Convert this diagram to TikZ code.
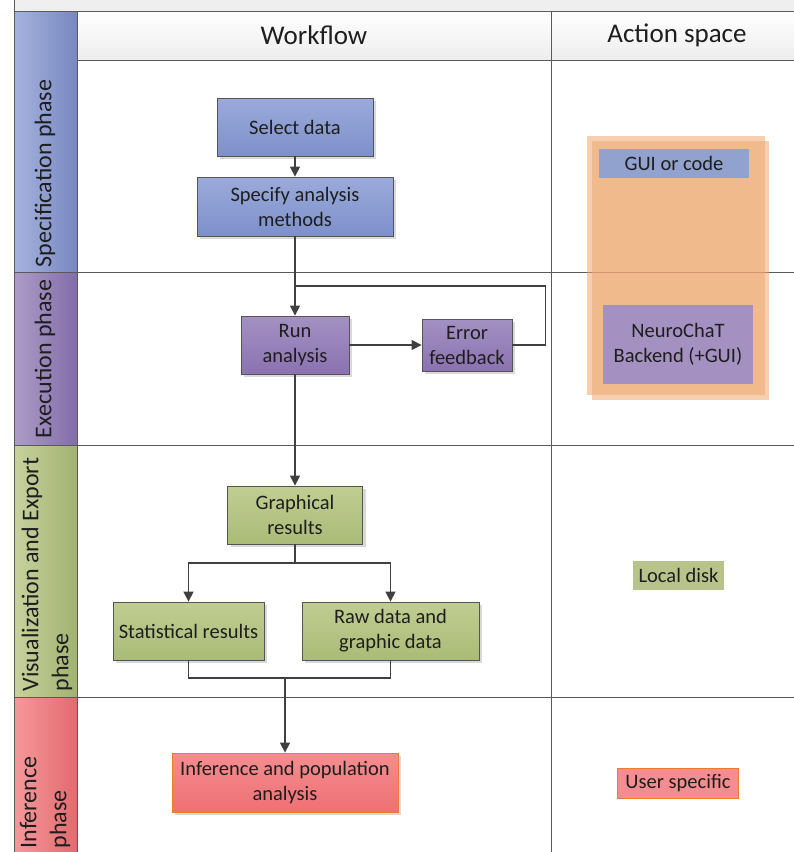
\documentclass[tikz,border=0pt]{standalone}
\usepackage{fontspec}
\setmainfont{Carlito}
\usetikzlibrary{arrows.meta,shadows}
\definecolor{gridc}{HTML}{5A5A5A}
\definecolor{boxline}{HTML}{555555}
\definecolor{txt}{HTML}{1E1E1E}
\definecolor{conn}{HTML}{404040}
\definecolor{bl1}{HTML}{9AAADA}
\definecolor{bl2}{HTML}{7E90CB}
\definecolor{pu1}{HTML}{A491C2}
\definecolor{pu2}{HTML}{8A72B1}
\definecolor{gr1}{HTML}{C1CD92}
\definecolor{gr2}{HTML}{AABB77}
\definecolor{rd1}{HTML}{F58D90}
\definecolor{rd2}{HTML}{EE7074}
\definecolor{orline}{HTML}{F27A2A}
\definecolor{orfill}{HTML}{EEA870}
\definecolor{topstrip}{HTML}{EFEFEF}
\tikzset{
  gridline/.style={draw=gridc, line width=1pt},
  box/.style={draw=boxline, line width=0.8pt, align=center, text=txt,
    font=\fontsize{20.5}{25}\selectfont, inner sep=2pt,
    drop shadow={shadow xshift=3pt, shadow yshift=-3pt, fill=black, opacity=0.15}},
  bluebox/.style={box, top color=bl1, bottom color=bl2},
  purplebox/.style={box, top color=pu1, bottom color=pu2},
  greenbox/.style={box, top color=gr1, bottom color=gr2},
  redbox/.style={box, draw=orline, top color=rd1, bottom color=rd2},
  flatbox/.style={align=center, text=txt, font=\fontsize{20.5}{25}\selectfont, inner sep=0pt},
  phasetext/.style={rotate=90, align=left, text=txt, font=\fontsize{24}{30}\selectfont, inner sep=0pt},
  headtext/.style={text=txt, font=\fontsize{27}{32}\selectfont, inner sep=0pt},
  link/.style={draw=conn, line width=1.3pt},
  arr/.style={link, -{Triangle[width=10pt,length=10pt]}},
}
\begin{document}
\begin{tikzpicture}[x=1pt,y=-1pt]
\useasboundingbox (0,0) rectangle (794,852);
\clip (0,0) rectangle (794,852);
% top strip and header
\fill[topstrip] (14,0) rectangle (794,11);
\shade[top color=white, bottom color=black!7] (77,11) rectangle (794,60);
% phase column
\shade[left color=bl1!90!white, right color=bl2!95!black] (14,11) rectangle (77,272);
\shade[left color=pu1!90!white, right color=pu2!95!black] (14,272) rectangle (77,445);
\shade[left color=gr1!90!white, right color=gr2!95!black] (14,445) rectangle (77,697);
\shade[left color=rd1!90!white, right color=rd2!95!black] (14,697) rectangle (77,852);
% grid lines
\draw[gridline] (14,0) -- (14,852);
\draw[gridline] (77,11) -- (77,852);
\draw[gridline] (14,11) -- (794,11);
\draw[gridline] (77,60) -- (794,60);
\draw[gridline] (551,11) -- (551,852);
\draw[gridline] (14,272) -- (794,272);
\draw[gridline] (14,445) -- (794,445);
\draw[gridline] (14,697) -- (794,697);
% headers
\node[headtext] (hw) at (314,35) {Workflow};
\node[headtext] (ha) at (677,35) {Action space};
% phase labels
\node[phasetext] (p1) at (45,173.5) {Specification phase};
\node[phasetext] (p2) at (45,359) {Execution phase};
\node[phasetext] (p3) at (47,574.5) {Visualization and Export\\phase};
\node[phasetext] (p4) at (45,802.5) {Inference\\phase};
% orange action-space block
\fill[orfill, opacity=0.55] (587,136) rectangle (765,395);
\fill[orfill, opacity=0.55] (592,141) rectangle (769,400);
\node[flatbox, fill=bl1!95!black, minimum width=150, minimum height=29] (gui) at (674,163.5) {GUI or code};
\node[flatbox, fill=pu1, minimum width=150, minimum height=79] (neuro) at (678,344.5) {NeuroChaT\\Backend (+GUI)};
\node[flatbox, fill=gr1!95!black, minimum width=91, minimum height=29] (disk) at (678.5,575.5) {Local disk};
\node[flatbox, fill=rd1, draw=orline, line width=1pt, minimum width=121, minimum height=30] (usr) at (678,783) {User specific};
% workflow nodes
\node[bluebox, minimum width=156, minimum height=58] (sel) at (295,127) {Select data};
\node[bluebox, minimum width=196, minimum height=59] (spec) at (295,206.5) {Specify analysis\\methods};
\node[purplebox, minimum width=108, minimum height=58] (run) at (295,345) {Run\\analysis};
\node[purplebox, minimum width=90, minimum height=52] (err) at (467,345) {Error\\feedback};
\node[greenbox, minimum width=135, minimum height=58] (graph) at (295,515) {Graphical\\results};
\node[greenbox, minimum width=151, minimum height=58] (stat) at (188.5,631) {Statistical results};
\node[greenbox, minimum width=177, minimum height=58] (raw) at (390.5,631) {Raw data and\\graphic data};
\node[redbox, minimum width=226, minimum height=59] (inf) at (285,782.5) {Inference and population\\analysis};
% connectors
\coordinate (j1) at (295,286);
\coordinate (j2) at (295,563);
\coordinate (j3) at (285,678);
\draw[arr] (sel.south) -- (spec.north);
\draw[arr] (spec.south) -- (run.north);
\draw[link] (err.east) -- ++(33,0) |- (j1);
\draw[arr] (run.east) -- (err.west);
\draw[arr] (run.south) -- (graph.north);
\draw[link] (graph.south) -- (j2);
\draw[arr] (j2) -| (stat.north);
\draw[arr] (j2) -| (raw.north);
\draw[link] (stat.south) |- (j3) -| (raw.south);
\draw[arr] (j3) -- (inf.north);
\end{tikzpicture}
\end{document}
